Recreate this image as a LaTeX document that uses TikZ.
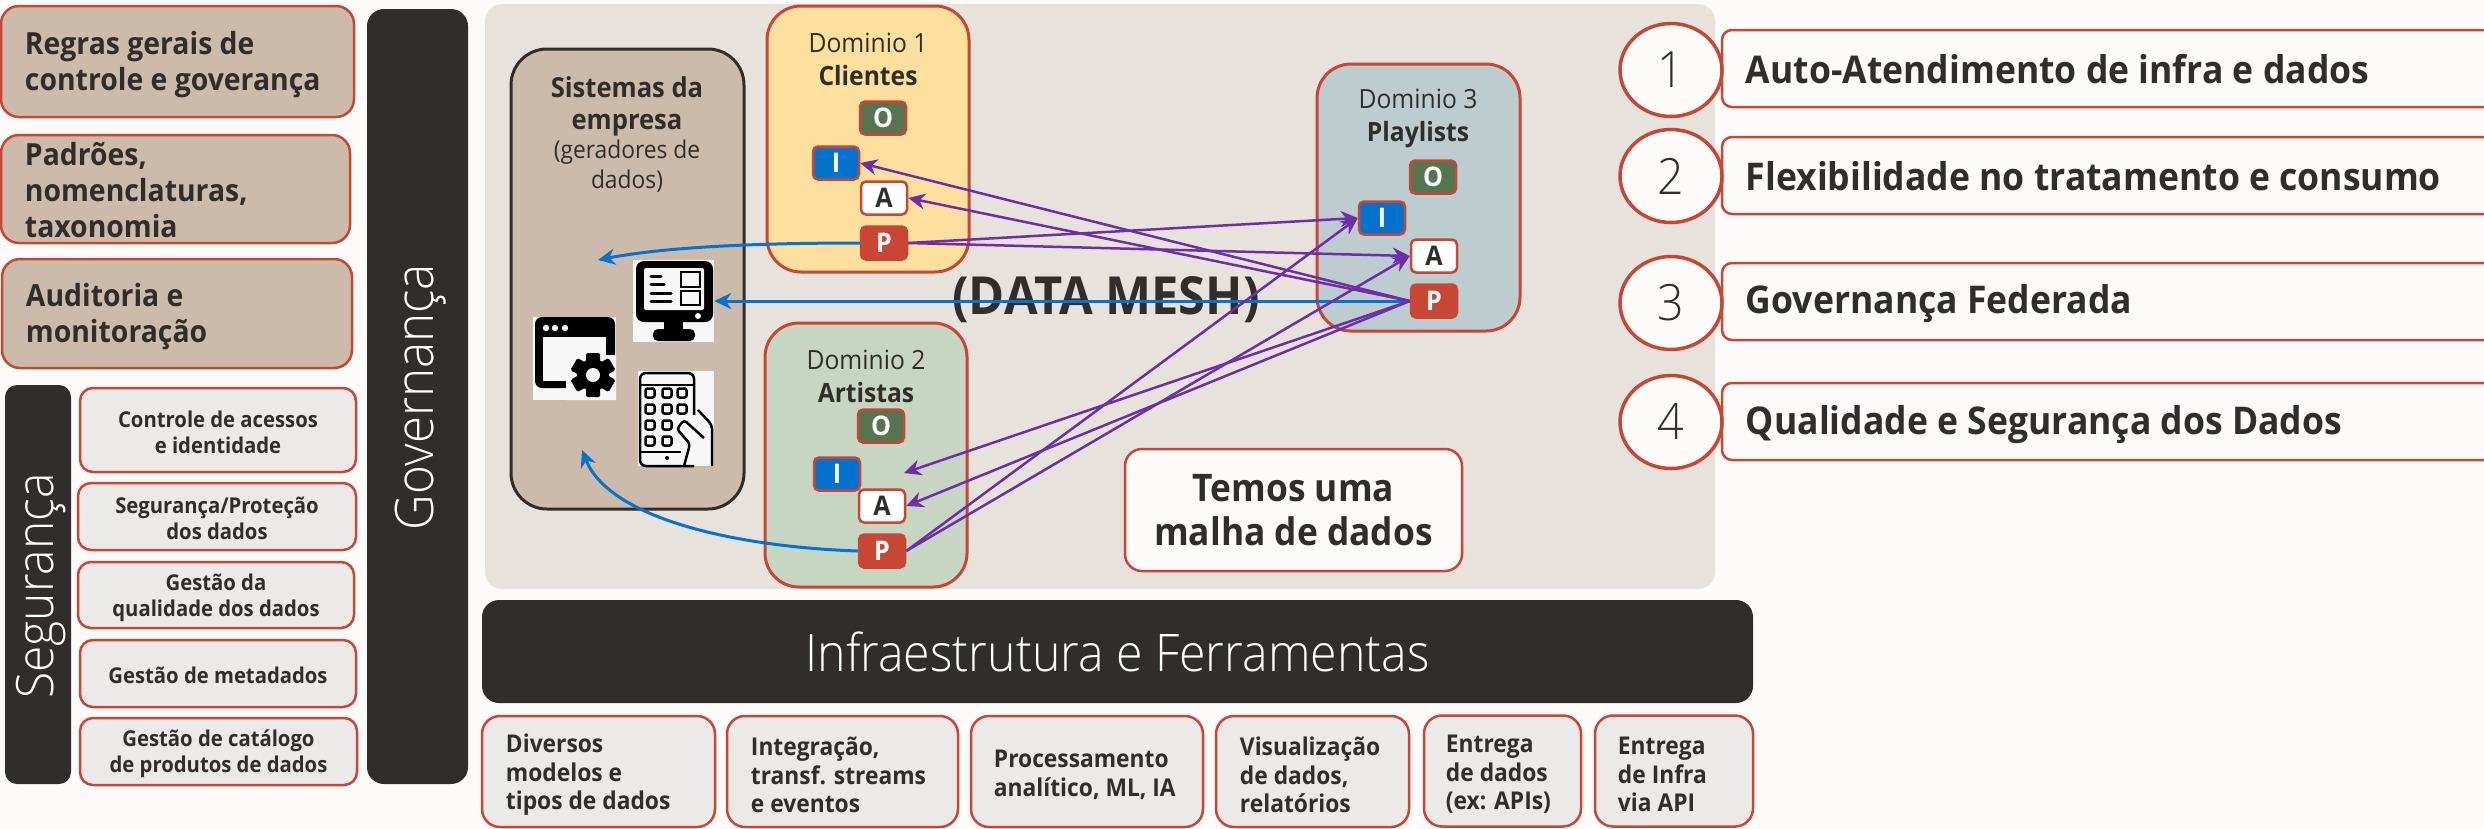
\documentclass[tikz,border=0pt]{standalone}
\usepackage{fontspec}
\setmainfont[FakeStretch=0.93]{Open Sans}
\newfontfamily\lightfont[FakeStretch=0.93]{Open Sans Light}
\usetikzlibrary{arrows.meta}
\usetikzlibrary{shapes.geometric}
\definecolor{ink}{HTML}{312D2A}
\definecolor{oraRed}{HTML}{C74634}
\definecolor{paper}{HTML}{FCFBF9}
\definecolor{panel}{HTML}{E8E2DC}
\definecolor{tan}{HTML}{CCBBAB}
\definecolor{softGray}{HTML}{EBEAE8}
\definecolor{domYellow}{HTML}{FDE09E}
\definecolor{domGreen}{HTML}{C7D6C3}
\definecolor{domBlue}{HTML}{BDCDCF}
\definecolor{badgeGreen}{HTML}{56744F}
\definecolor{meshBlue}{HTML}{0572CE}
\definecolor{meshPurple}{HTML}{6F2DA8}
\definecolor{iconBack}{HTML}{F7F7F7}
\tikzstyle{ruledbox} = [draw=oraRed, line width=2.5pt, inner sep=0pt, text=ink]
\tikzstyle{rulebox} = [ruledbox, fill=tan, rounded corners=18pt]
\tikzstyle{ruletext} = [inner sep=0pt, text=ink, align=left, font=\fontsize{30.5}{36}\selectfont\bfseries]
\tikzstyle{secbox} = [ruledbox, fill=softGray, rounded corners=13pt]
\tikzstyle{sectext} = [inner sep=0pt, text=ink, align=center, font=\fontsize{21.8}{26}\selectfont\bfseries]
\tikzstyle{toolbox} = [ruledbox, fill=softGray, rounded corners=18pt, minimum height=111pt]
\tikzstyle{tooltext} = [inner sep=0pt, text=ink, align=left, font=\fontsize{24.5}{28.5}\selectfont\bfseries]
\tikzstyle{darkbar} = [fill=ink, rounded corners=17pt, inner sep=0pt, text=white]
\tikzstyle{domainbox} = [draw=oraRed, line width=3pt, rounded corners=34pt, inner sep=0pt]
\tikzstyle{domaintitle} = [inner sep=0pt, text=ink, align=center, font=\fontsize{26.5}{33}\selectfont]
\tikzstyle{badge} = [draw=oraRed, line width=2.5pt, rounded corners=5pt, inner sep=0pt,
    minimum width=46pt, minimum height=33pt, text=white, font=\fontsize{27}{27}\selectfont\bfseries]
\tikzstyle{numdisc} = [ellipse, draw=oraRed, fill=paper, line width=3.5pt, inner sep=0pt,
    minimum width=102pt, minimum height=93pt, text=ink, font=\fontsize{50}{50}\selectfont\lightfont]
\tikzstyle{factbox} = [ruledbox, fill=paper, rounded corners=10pt, minimum width=772pt, minimum height=77pt]
\tikzstyle{facttext} = [inner sep=0pt, text=ink, font=\fontsize{38.2}{40}\selectfont\bfseries]
\tikzstyle{meshlink} = [draw=meshPurple, line width=2.5pt, -{Stealth[length=17pt,width=16pt]}]
\tikzstyle{feedlink} = [draw=meshBlue, line width=3pt, -{Stealth[length=17pt,width=16pt]}]
\tikzstyle{iconback} = [fill=iconBack, inner sep=0pt]
\begin{document}
\begin{tikzpicture}[x=1pt,y=-1pt]
    \useasboundingbox (0,0) rectangle (2484,828);
    \fill[paper] (0,0) rectangle (2484,828);

    \node [rulebox, minimum width=353pt, minimum height=111pt] (rules) at (177.5,61.5) {};
    \node [ruletext, right=25pt] (rulestext) at ([yshift=-3pt]rules.west) {Regras gerais de\\controle e goverança};
    \node [rulebox, minimum width=349pt, minimum height=108pt] (patterns) at (175.5,189) {};
    \node [ruletext, right=25pt] (patternstext) at ([yshift=-1pt]patterns.west) {Padrões,\\nomenclaturas,\\taxonomia};
    \node [rulebox, minimum width=350pt, minimum height=109pt] (audit) at (177,313.5) {};
    \node [ruletext, right=25pt] (audittext) at ([yshift=-3.5pt]audit.west) {Auditoria e\\monitoração};

    \node [darkbar, minimum width=101pt, minimum height=775pt] (govbar) at (417.5,396.5) {};
    \node [text=white, rotate=90, inner sep=0pt, font=\fontsize{53}{53}\selectfont\lightfont] (govlabel) at (421,397) {Governança};
    \node [darkbar, rounded corners=12pt, minimum width=66pt, minimum height=399pt] (secbar) at (38,584.5) {};
    \node [text=white, rotate=90, inner sep=0pt, font=\fontsize{51.5}{51.5}\selectfont\lightfont] (seclabel) at (41,586) {Segurança};

    \node [secbox, minimum width=276pt, minimum height=84pt] (access) at (218,430) {};
    \node [sectext] (accesstext) at ([yshift=-2pt]access.center) {Controle de acessos\\e identidade};
    \node [secbox, minimum width=278pt, minimum height=67pt] (protect) at (217,516.5) {};
    \node [sectext] (protecttext) at ([yshift=-2pt]protect.center) {Segurança/Proteção\\dos dados};
    \node [secbox, minimum width=276pt, minimum height=66pt] (quality) at (216,595) {};
    \node [sectext] (qualitytext) at ([yshift=-2.5pt]quality.center) {Gestão da\\qualidade dos dados};
    \node [secbox, minimum width=276pt, minimum height=67pt] (metadata) at (218,673.5) {};
    \node [sectext] (metadatatext) at ([yshift=-1.5pt]metadata.center) {Gestão de metadados};
    \node [secbox, minimum width=277pt, minimum height=67pt] (catalog) at (218.5,751.5) {};
    \node [sectext] (catalogtext) at ([yshift=-2.5pt]catalog.center) {Gestão de catálogo\\de produtos de dados};

    \fill[panel, rounded corners=17pt] (485,4) rectangle (1715,589);

    \node [draw=ink, fill=tan, line width=3pt, rounded corners=36pt, inner sep=0pt, minimum width=233pt, minimum height=460pt] (systems) at (627.5,279) {};
    \node [inner sep=0pt, text=ink, align=center, font=\fontsize{27.5}{32}\selectfont\bfseries] (systitle) at (627,106) {Sistemas da\\empresa};
    \node [inner sep=0pt, text=ink, align=center, font=\fontsize{24.5}{29.5}\selectfont] (syssub) at (627,166) {(geradores de\\dados)};

    \node [domainbox, fill=domYellow, minimum width=202pt, minimum height=266pt] (dom1) at (868,139) {};
    \node [domaintitle] (dom1title) at (868,59) {Dominio 1\\\textbf{Clientes}};
    \node [domainbox, fill=domGreen, minimum width=202pt, minimum height=264pt] (dom2) at (866,455) {};
    \node [domaintitle] (dom2title) at (866,376.5) {Dominio 2\\\textbf{Artistas}};
    \node [domainbox, fill=domBlue, minimum width=203pt, minimum height=267pt] (dom3) at (1418.5,197.5) {};
    \node [domaintitle] (dom3title) at (1418,118.5) {Dominio 3\\\textbf{Playlists}};

    \node [iconback, minimum width=81pt, minimum height=82pt] (monitor) at (673.5,301) {};
    \fill[black, rounded corners=8pt] (636,261) rectangle (713,322);
    \fill[iconBack, rounded corners=2pt] (644,268) rectangle (704,310);
    \fill[black] (664,320) rectangle (683,331);
    \fill[black, rounded corners=5pt] (653,329) rectangle (695,341);
    \fill[iconBack] (698,316) circle (3);
    \draw[black, line width=3pt, line cap=round] (651,276) -- (661,276) (651,284) -- (664,284) (651,293) -- (671,293) (651,301) -- (671,301);
    \draw[black, line width=2.5pt] (681,272) rectangle (700,287) (681,291) rectangle (700,305);

    \node [iconback, minimum width=83pt, minimum height=83pt] (window) at (574.5,358.5) {};
    \fill[black, rounded corners=7pt] (535,317) rectangle (615,388);
    \fill[iconBack] (543,337) rectangle (606,381);
    \fill[iconBack] (566,381) rectangle (616,400) (606,355) rectangle (616,381);
    \foreach \dotx in {546,555,565}
        \fill[iconBack] (\dotx,328) circle (3.2);
    \foreach \toothangle in {0,60,...,300}
        \fill[black, rotate around={\toothangle:(593,375)}, rounded corners=1.5pt] (586,353) rectangle (600,365);
    \fill[black] (593,375) circle (16);
    \fill[iconBack] (593,375) circle (7);

    \node [iconback, minimum width=76pt, minimum height=95pt] (tablet) at (676,418.5) {};
    \draw[black, line width=2.5pt, rounded corners=6pt] (694,466) -- (640,466) -- (640,373) -- (694,373) -- (694,415);
    \draw[black, line width=2.5pt] (640,385) -- (694,385) (640,452) -- (681,452);
    \fill[black] (667,458) circle (2);
    \foreach \keyx in {650,667,682}
        \foreach \keyy in {393,409}
            \draw[black, line width=2.5pt, rounded corners=2pt] (\keyx-4.5,\keyy-4.5) rectangle (\keyx+4.5,\keyy+4.5);
    \foreach \keyx in {650,667}
        \foreach \keyy in {425,441}
            \draw[black, line width=2.5pt, rounded corners=2pt] (\keyx-4.5,\keyy-4.5) rectangle (\keyx+4.5,\keyy+4.5);
    \draw[black, line width=2.5pt, fill=iconBack, rounded corners=3pt] (684,466) -- (690,444) -- (677,429) -- (684,420) -- (704,438);
    \draw[black, line width=2.5pt, rounded corners=4pt] (698,410) -- (712,425) -- (712,466);

    \node [inner sep=0pt, text=ink, font=\fontsize{52.5}{52.5}\selectfont\bfseries] (meshlabel) at (1106,300) {(DATA MESH)};

    \node [badge, fill=badgeGreen] (o1) at (883,118) {O};
    \node [badge, fill=meshBlue] (i1) at (836,163) {I};
    \node [badge, fill=white, text=ink] (a1) at (884,198) {A};
    \node [badge, fill=oraRed] (p1) at (884,243) {P};
    \node [badge, fill=badgeGreen] (o2) at (881,426) {O};
    \node [badge, fill=meshBlue] (i2) at (837,474) {I};
    \node [badge, fill=white, text=ink] (a2) at (882,506) {A};
    \node [badge, fill=oraRed] (p2) at (882,551) {P};
    \node [badge, fill=badgeGreen] (o3) at (1433,177) {O};
    \node [badge, fill=meshBlue] (i3) at (1382,218) {I};
    \node [badge, fill=white, text=ink] (a3) at (1434,256) {A};
    \node [badge, fill=oraRed] (p3) at (1434,301) {P};

    \coordinate (sysin1) at (598,260);
    \coordinate (sysin2) at (582,450);
    \coordinate (i2free) at (904,473);

    \draw [feedlink] (p1.west) .. controls (770,243) and (670,246) .. (sysin1);
    \draw [feedlink] (p3.west) -- (monitor.east);
    \draw [feedlink] (p2.west) .. controls (740,547) and (610,520) .. (sysin2);

    \draw [meshlink] (p3.west) -- (i1.east);
    \draw [meshlink] (p3.west) -- (a1.east);
    \draw [meshlink] (p3.west) -- (i2free);
    \draw [meshlink] (p3.west) -- (a2.east);
    \draw [meshlink] (p1.east) -- (i3.west);
    \draw [meshlink] (p1.east) -- (a3.west);
    \draw [meshlink] (p2.east) -- (i3.west);
    \draw [meshlink] (p2.east) -- (a3.west);

    \node [ruledbox, fill=paper, rounded corners=17pt, minimum width=337pt, minimum height=122pt, align=center,
        font=\fontsize{38}{44}\selectfont\bfseries] (meshnote) at (1293.5,510) {Temos uma\\malha de dados};

    \node [darkbar, minimum width=1271pt, minimum height=103pt, font=\fontsize{51.8}{51.8}\selectfont\lightfont] (infra) at (1117.5,651.5) {Infraestrutura e Ferramentas};

    \node [toolbox, minimum width=233pt] (models) at (598.5,771.5) {};
    \node [tooltext, right=25pt] (modelstext) at ([yshift=-3.5pt]models.west) {Diversos\\modelos e\\tipos de dados};
    \node [toolbox, minimum width=231pt] (streams) at (842.5,771.5) {};
    \node [tooltext, right=25pt] (streamstext) at ([yshift=-3.5pt]streams.west) {Integração,\\transf. streams\\e eventos};
    \node [toolbox, minimum width=232pt] (analytics) at (1087,771.5) {};
    \node [tooltext, right=24pt] (analyticstext) at ([yshift=-3.5pt]analytics.west) {Processamento\\analítico, ML, IA};
    \node [toolbox, minimum width=193pt] (reports) at (1312.5,771.5) {};
    \node [tooltext, right=25pt] (reportstext) at ([yshift=-3.5pt]reports.west) {Visualização\\de dados,\\relatórios};
    \node [toolbox, minimum width=157pt] (apis) at (1502.5,771) {};
    \node [tooltext, right=23pt] (apistext) at ([yshift=-3.5pt]apis.west) {Entrega\\de dados\\(ex: APIs)};
    \node [toolbox, minimum width=158pt] (infraapi) at (1674,771) {};
    \node [tooltext, right=24pt] (infraapitext) at ([yshift=-3.5pt]infraapi.west) {Entrega\\de Infra\\via API};

    \node [factbox] (fact1) at (2108,68.5) {};
    \node [facttext, right=25pt] (fact1text) at ([yshift=-1pt]fact1.west) {Auto-Atendimento de infra e dados};
    \node [factbox] (fact2) at (2108,175.5) {};
    \node [facttext, right=25pt] (fact2text) at ([yshift=-1pt]fact2.west) {Flexibilidade no tratamento e consumo};
    \node [factbox] (fact3) at (2108,301.5) {};
    \node [facttext, right=25pt] (fact3text) at ([yshift=-2.5pt]fact3.west) {Governança Federada};
    \node [factbox] (fact4) at (2108,421.5) {};
    \node [facttext, right=25pt] (fact4text) at ([yshift=-3pt]fact4.west) {Qualidade e Segurança dos Dados};

    \node [numdisc] (num1) at (1671,70) {1};
    \node [numdisc] (num2) at (1671,176) {2};
    \node [numdisc] (num3) at (1671,303) {3};
    \node [numdisc] (num4) at (1671,422) {4};
\end{tikzpicture}
\end{document}
